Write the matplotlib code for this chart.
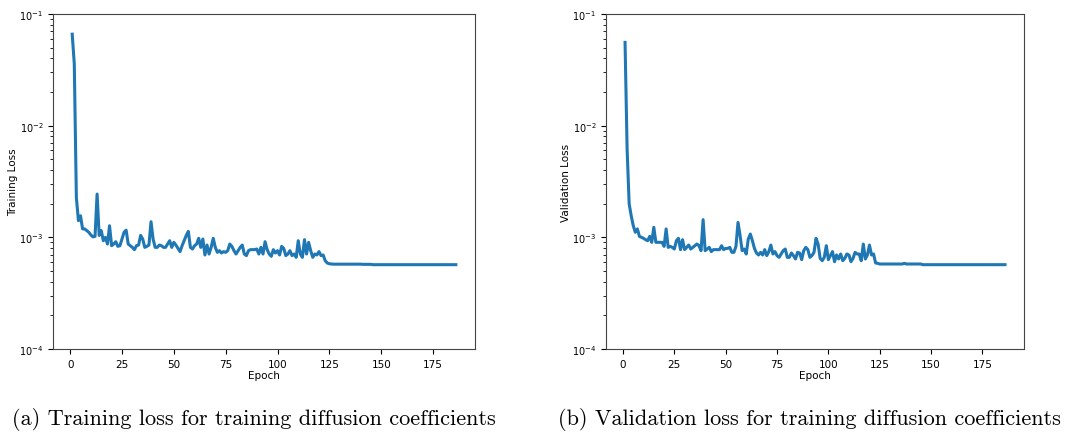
import matplotlib.pyplot as plt
import numpy as np

# loss per epoch
train_loss = [
    0.066, 0.0357, 0.00228, 0.00141, 0.00156, 0.00119, 0.00119, 0.00115, 0.00111, 0.00105,
    0.00101, 0.00102, 0.00244, 0.00104, 0.00115, 0.000933, 0.00100, 0.000871, 0.00127, 0.000842,
    0.000871, 0.000914, 0.000830, 0.000842, 0.000966, 0.00111, 0.00116, 0.000871, 0.000842, 0.000813,
    0.000776, 0.000842, 0.000853, 0.00104, 0.000966, 0.000813, 0.000830, 0.000853, 0.00138, 0.000966,
    0.000813, 0.000813, 0.000853, 0.000842, 0.000813, 0.000813, 0.000871, 0.000933, 0.000813, 0.000902,
    0.000853, 0.000796, 0.000745, 0.000842, 0.000933, 0.00104, 0.00113, 0.000813, 0.000786, 0.000842,
    0.000871, 0.000980, 0.000813, 0.000966, 0.000695, 0.000853, 0.000709, 0.000813, 0.000980, 0.000813,
    0.000734, 0.000760, 0.000724, 0.000745, 0.000734, 0.000760, 0.000871, 0.000830, 0.000760, 0.000709,
    0.000760, 0.000813, 0.000853, 0.000709, 0.000686, 0.000760, 0.000776, 0.000776, 0.000776, 0.000786,
    0.000709, 0.000813, 0.000709, 0.000914, 0.000776, 0.000709, 0.000676, 0.000776, 0.000724, 0.000760,
    0.000695, 0.000830, 0.000796, 0.000686, 0.000709, 0.000760, 0.000686, 0.000709, 0.000662, 0.000933,
    0.000709, 0.000662, 0.000953, 0.000709, 0.000902, 0.000760, 0.000662, 0.000709, 0.000695, 0.000745,
    0.000686, 0.000695, 0.000618, 0.000589, 0.000580, 0.000577, 0.000575, 0.000575, 0.000575, 0.000575,
    0.000575, 0.000575, 0.000575, 0.000575, 0.000575, 0.000575, 0.000575, 0.000575, 0.000575, 0.000575,
    0.000573, 0.000573, 0.000573, 0.000573, 0.000573, 0.000569, 0.000569, 0.000569, 0.000569, 0.000569,
    0.000569, 0.000569, 0.000569, 0.000569, 0.000569, 0.000569, 0.000569, 0.000569, 0.000569, 0.000569,
    0.000569, 0.000569, 0.000569, 0.000569, 0.000569, 0.000569, 0.000569, 0.000569, 0.000569, 0.000569,
    0.000569, 0.000569, 0.000569, 0.000569, 0.000569, 0.000569, 0.000569, 0.000569, 0.000569, 0.000569,
    0.000569, 0.000569, 0.000569, 0.000569, 0.000569, 0.000569,
]

val_loss = [
    0.0557, 0.00618, 0.00199, 0.00156, 0.00127, 0.00111, 0.00119, 0.00102, 0.00100, 0.000980,
    0.000953, 0.000933, 0.00102, 0.000902, 0.00123, 0.000902, 0.000902, 0.000902, 0.000902, 0.000830,
    0.00119, 0.000813, 0.000830, 0.000813, 0.000786, 0.000933, 0.000980, 0.000776, 0.000953, 0.000776,
    0.000813, 0.000853, 0.000786, 0.000813, 0.000842, 0.000871, 0.000842, 0.000760, 0.00144, 0.000760,
    0.000786, 0.000813, 0.000745, 0.000776, 0.000776, 0.000776, 0.000776, 0.000842, 0.000776, 0.000796,
    0.000796, 0.000813, 0.000734, 0.000734, 0.000830, 0.00136, 0.00104, 0.000760, 0.000786, 0.000709,
    0.000966, 0.00107, 0.000933, 0.000796, 0.000724, 0.000695, 0.000734, 0.000695, 0.000776, 0.000686,
    0.000745, 0.000853, 0.000709, 0.000745, 0.000686, 0.000662, 0.000709, 0.000760, 0.000786, 0.000662,
    0.000662, 0.000724, 0.000686, 0.000640, 0.000734, 0.000724, 0.000631, 0.000760, 0.000813, 0.000776,
    0.000662, 0.000686, 0.000734, 0.000980, 0.000871, 0.000648, 0.000618, 0.000662, 0.000842, 0.000631,
    0.000686, 0.000745, 0.000605, 0.000695, 0.000640, 0.000709, 0.000618, 0.000648, 0.000709, 0.000695,
    0.000605, 0.000648, 0.000734, 0.000709, 0.000709, 0.000618, 0.000871, 0.000640, 0.000695, 0.000853,
    0.000695, 0.000709, 0.000589, 0.000585, 0.000577, 0.000577, 0.000577, 0.000577, 0.000577, 0.000577,
    0.000577, 0.000577, 0.000577, 0.000577, 0.000577, 0.000577, 0.000585, 0.000577, 0.000577, 0.000577,
    0.000577, 0.000577, 0.000577, 0.000577, 0.000577, 0.000569, 0.000569, 0.000569, 0.000569, 0.000569,
    0.000569, 0.000569, 0.000569, 0.000569, 0.000569, 0.000569, 0.000569, 0.000569, 0.000569, 0.000569,
    0.000569, 0.000569, 0.000569, 0.000569, 0.000569, 0.000569, 0.000569, 0.000569, 0.000569, 0.000569,
    0.000569, 0.000569, 0.000569, 0.000569, 0.000569, 0.000569, 0.000569, 0.000569, 0.000569, 0.000569,
    0.000569, 0.000569, 0.000569, 0.000569, 0.000569, 0.000569,
]

epochs = np.arange(1, len(train_loss) + 1)

panels = [
    (train_loss, "Training Loss", "(a) Training loss for training diffusion coefficients"),
    (val_loss, "Validation Loss", "(b) Validation loss for training diffusion coefficients"),
]
boxes = [[0.0497, 0.1954, 0.3955, 0.7701], [0.568, 0.1954, 0.3917, 0.7701]]
cap_x = [0.238, 0.759]

fig = plt.figure(figsize=(10.67, 4.35), dpi=100)

for (loss, ylab, cap), box, cx in zip(panels, boxes, cap_x):
    ax = fig.add_axes(box)
    ax.plot(epochs, loss, color="#1f77b4", lw=2.2)
    ax.set_yscale("log")
    ax.set_ylim(1e-4, 1e-1)
    ax.set_xticks([0, 25, 50, 75, 100, 125, 150, 175])
    ax.tick_params(axis="x", labelsize=7.5)
    ax.tick_params(axis="y", labelsize=7)
    ax.set_xlabel("Epoch", fontsize=7.5, labelpad=1)
    ax.set_ylabel(ylab, fontsize=7.5, labelpad=1)
    for s in ax.spines.values():
        s.set_color("#444444")
    # subfigure caption underneath, LaTeX-ish serif
    fig.text(cx, 0.022, cap, ha="center", va="baseline", fontsize=16,
             family="cmr10")

fig.savefig("out.png", dpi=100)
